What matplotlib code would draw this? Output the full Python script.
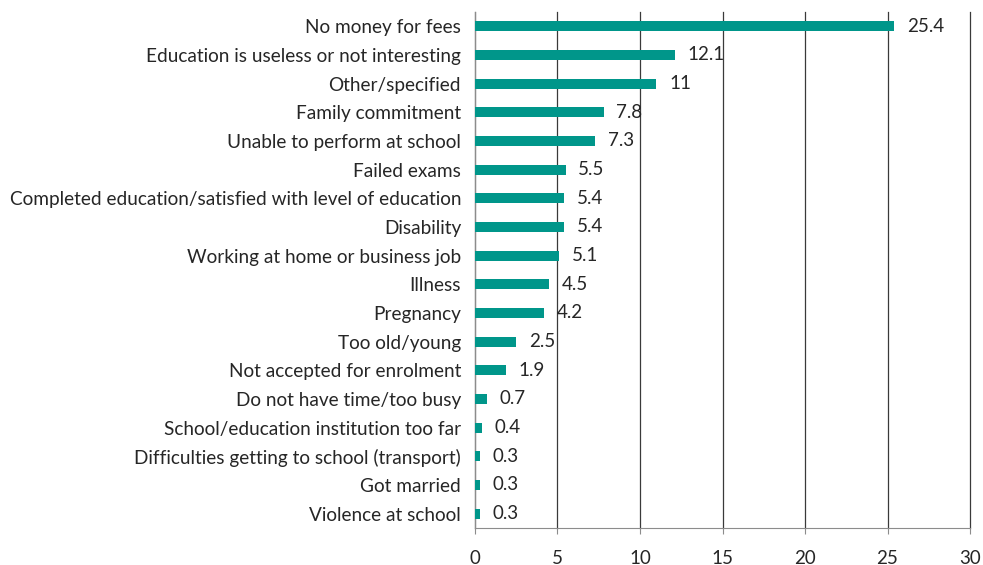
import numpy as np
from matplotlib import pyplot as plt

reasons = ["No money for fees",
           "Education is useless or not interesting",
           "Other/specified",
           "Family commitment",
           "Unable to perform at school",
           "Failed exams",
           "Completed education/satisfied with level of education",
           "Disability",
           "Working at home or business job",
           "Illness",
           "Pregnancy",
           "Too old/young",
           "Not accepted for enrolment",
           "Do not have time/too busy",
           "School/education institution too far",
           "Difficulties getting to school (transport)",
           "Got married",
           "Violence at school"]
percent = [25.4, 12.1, 11, 7.8, 7.3, 5.5, 5.4, 5.4, 5.1, 4.5, 4.2, 2.5,
           1.9, 0.7, 0.4, 0.3, 0.3, 0.3]
x_ticks = [0, 5, 10, 15, 20, 25, 30]

plt.rcParams['font.family'] = ['Lato', 'DejaVu Sans']

fig = plt.figure(figsize=(9.83, 5.65), dpi=100)
ax = fig.add_axes([0.4832, 0.0655, 0.5036, 0.9133])

y = np.arange(len(reasons))
bars = ax.barh(y, percent, height=0.35, color="#00968A", zorder=3)

for b, v in zip(bars, percent):
    ax.annotate(f"{v:g}", xy=(b.get_width(), b.get_y() + b.get_height() / 2),
                xytext=(9, 0), textcoords="offset points",
                ha="left", va="center", fontsize=13.5, color="#262626")

ax.set_ylim(len(reasons) - 0.5, -0.5)
ax.set_xlim(0, 30)
ax.set_xticks(x_ticks)
ax.set_yticks(y)
ax.set_yticklabels(reasons, fontsize=13.7)

ax.grid(axis="x", color="#3a3a3a", linewidth=0.9, zorder=0)
# keep the gridline at 30 whole on the right edge
for line in ax.get_xgridlines():
    line.set_clip_on(False)
for side in ["top", "right"]:
    ax.spines[side].set_visible(False)
ax.spines["left"].set_color("#8c8c8c")
ax.spines["bottom"].set_color("#8c8c8c")

ax.tick_params(axis="y", length=0, pad=10, labelcolor="#262626")
ax.tick_params(axis="x", length=4.5, color="#8c8c8c", pad=11,
               labelsize=13.5, labelcolor="#262626")

fig.savefig("out.png", dpi=100)
